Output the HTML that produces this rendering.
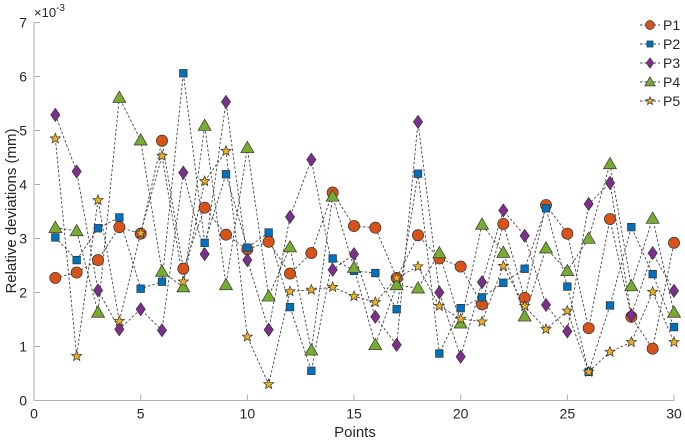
<!DOCTYPE html>
<html><head><meta charset="utf-8"><style>
body{margin:0;background:#fff}
svg{display:block;font-family:"Liberation Sans",sans-serif}
</style></head><body>
<svg id="chart" width="685" height="440" viewBox="0 0 685 440" xmlns="http://www.w3.org/2000/svg">
<g id="axes"></g>
<g id="series"></g>
<g id="legend"></g>
</svg>
<script>
const points = [1,2,3,4,5,6,7,8,9,10,11,12,13,14,15,16,17,18,19,20,21,22,23,24,25,26,27,28,29,30];
const p1 = [2.27,2.37,2.6,3.21,3.09,4.81,2.44,3.57,3.07,2.8,2.94,2.35,2.73,3.85,3.23,3.2,2.27,3.06,2.63,2.48,1.78,3.27,1.9,3.62,3.09,1.34,3.36,1.55,0.96,2.92];
const p2 = [3.02,2.6,3.19,3.39,2.07,2.2,6.06,2.92,4.19,2.83,3.11,1.73,0.55,2.63,2.4,2.36,1.69,4.2,0.87,1.71,1.91,2.18,2.44,3.56,2.11,0.53,1.76,3.21,2.34,1.36];
const p3 = [5.29,4.24,2.04,1.32,1.69,1.3,4.22,2.71,5.53,2.6,1.31,3.4,4.46,2.42,2.71,1.55,1.03,5.16,2.0,0.81,2.19,3.52,3.05,1.77,1.28,3.64,4.03,1.58,2.73,2.03];
const p4 = [3.2,3.14,1.63,5.61,4.82,2.39,2.1,5.09,2.14,4.68,1.93,2.84,0.93,3.78,2.46,1.03,2.14,2.08,2.73,1.43,3.26,2.74,1.56,2.82,2.4,3.0,4.38,2.12,3.37,1.63];
const p5 = [4.85,0.82,3.71,1.47,3.1,4.53,2.2,4.06,4.62,1.18,0.3,2.02,2.05,2.1,1.93,1.82,2.27,2.48,1.75,1.51,1.46,2.49,1.75,1.32,1.66,0.53,0.9,1.08,2.01,1.08];
const seriesNames = ["P1","P2","P3","P4","P5"];
const xTicks = [0,5,10,15,20,25,30];
const yTicks = [0,1,2,3,4,5,6,7];

const NS="http://www.w3.org/2000/svg";
const X0=34,X1=674,Y0=400.5,Y1=22.5;
const xs=v=>X0+(v-0)/(30-0)*(X1-X0);
const ys=v=>Y0-(v-0)/(7-0)*(Y0-Y1);
function mk(tag,attrs,parent){const e=document.createElementNS(NS,tag);for(const k in attrs)e.setAttribute(k,attrs[k]);parent.appendChild(e);return e;}
const axes=document.getElementById('axes');
let l=mk('line',{x1:X0,y1:Y0,x2:X1,y2:Y0,stroke:'#b0b0b0','stroke-width':1},axes);


l=mk('line',{x1:X0,y1:Y0,x2:X0,y2:Y1,stroke:'#b0b0b0','stroke-width':1},axes);


xTicks.forEach(t=>{
  const x=xs(t);
  const tk=mk('line',{x1:x,y1:Y0,x2:x,y2:Y0-6,stroke:'#b0b0b0'},axes);
  
  
  const tx=mk('text',{x:x,y:Y0+18,'text-anchor':'middle','font-size':14,fill:'#262626'},axes);
  tx.textContent=t;
  
  
});
yTicks.forEach(t=>{
  const y=ys(t);
  const tk=mk('line',{x1:X0,y1:y,x2:X0+6,y2:y,stroke:'#b0b0b0'},axes);
  
  
  const tx=mk('text',{x:X0-7,y:y+5,'text-anchor':'end','font-size':14,fill:'#262626'},axes);
  tx.textContent=t;
  
  
});
let t=mk('text',{x:34,y:17,'font-size':13,fill:'#262626'},axes);
t.innerHTML='×10<tspan dy="-6" font-size="10">-3</tspan>';


t=mk('text',{x:355,y:437,'text-anchor':'middle','font-size':15,fill:'#262626'},axes);
t.textContent='Points';


t=mk('text',{x:0,y:0,'text-anchor':'middle','font-size':15,fill:'#262626',transform:'translate(16,211) rotate(-90)'},axes);
t.textContent='Relative deviations  (mm)';



const colors=['#D95319','#0072BD','#7E2F8E','#77AC30','#EDB120'];
const shapes=['circle','square','diamond','triangle','star'];
function marker(shape,x,y,color,parent,s){
  s=s||1;let e;
  if(shape==='circle')e=mk('circle',{cx:x,cy:y,r:5.6*s},parent);
  else if(shape==='square')e=mk('rect',{x:x-3.8*s,y:y-3.8*s,width:7.6*s,height:7.6*s},parent);
  else if(shape==='diamond')e=mk('polygon',{points:`${x},${y-6.5*s} ${x+4.6*s},${y} ${x},${y+6.5*s} ${x-4.6*s},${y}`},parent);
  else if(shape==='triangle')e=mk('polygon',{points:`${x},${y-6.5*s} ${x+6.5*s},${y+4.8*s} ${x-6.5*s},${y+4.8*s}`},parent);
  else{let pts=[];for(let i=0;i<10;i++){const r=i%2?2.3*s:5.3*s;const a=-Math.PI/2+i*Math.PI/5;pts.push((x+r*Math.cos(a)).toFixed(2)+','+(y+r*Math.sin(a)).toFixed(2));}e=mk('polygon',{points:pts.join(' ')},parent);}
  e.setAttribute('fill',color);e.setAttribute('stroke','#333');e.setAttribute('stroke-width',0.7);
  return e;
}
const allData=[p1,p2,p3,p4,p5];
const sg=document.getElementById('series');
allData.forEach((d,i)=>{
  const g=mk('g',{},sg);
  
  
  const pl=mk('polyline',{points:d.map((v,j)=>xs(points[j])+','+ys(v)).join(' '),fill:'none',stroke:'#444','stroke-width':0.9,'stroke-dasharray':'2.5,2'},g);
  
  
});
allData.forEach((d,i)=>{
  d.forEach((v,j)=>{
    const m=marker(shapes[i],xs(points[j]),ys(v),colors[i],sg);
    
    
  });
});
const lg=document.getElementById('legend');
seriesNames.forEach((n,i)=>{
  const y=25+i*19;
  const g=mk('g',{},lg);
  
  
  mk('line',{x1:640,y1:y,x2:660,y2:y,stroke:'#444','stroke-width':0.9,'stroke-dasharray':'2.5,2'},g);
  marker(shapes[i],650,y,colors[i],g,0.8);
  const tx=mk('text',{x:663,y:y+5,'font-size':14,fill:'#262626'},g);
  tx.textContent=n;
});
</script>
</body></html>
